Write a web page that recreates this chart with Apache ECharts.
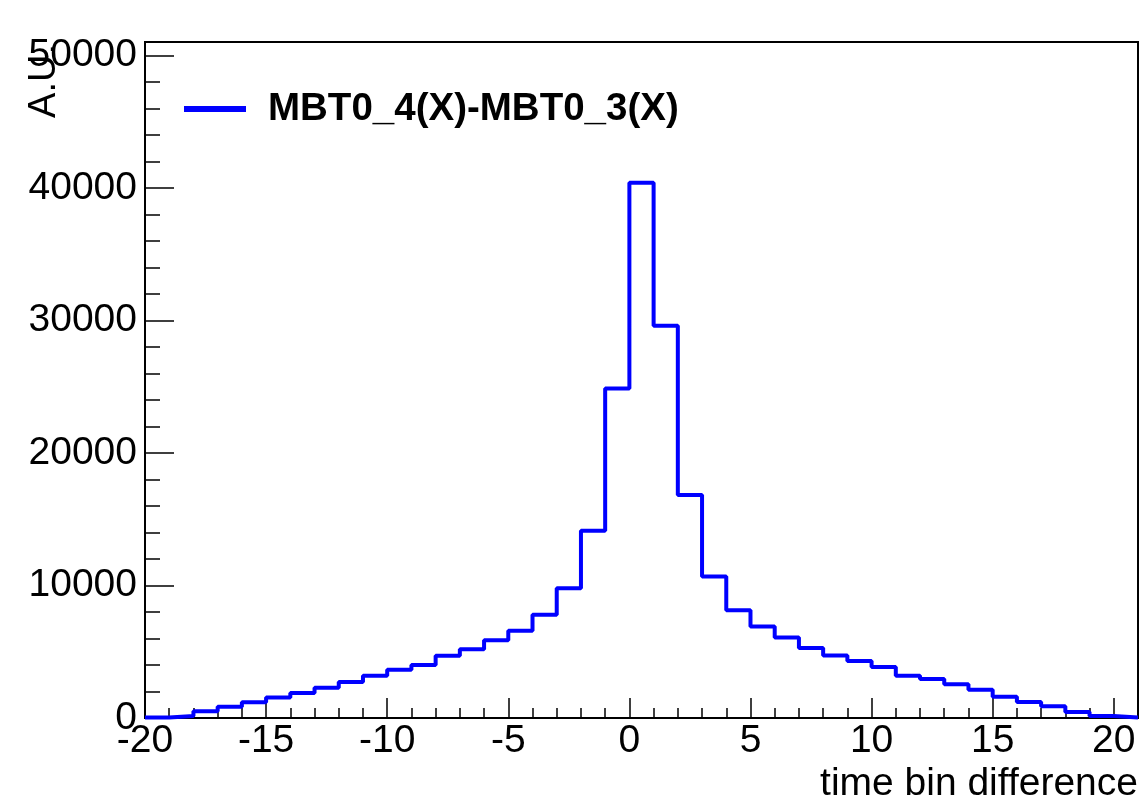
<!DOCTYPE html>
<html>
<head>
<meta charset="utf-8">
<script src="https://cdn.jsdelivr.net/npm/echarts@6/dist/echarts.min.js"></script>
<style>
  html, body { margin: 0; padding: 0; background: #fff; }
  #time-diff { width: 1139px; height: 801px; }
</style>
</head>
<body>
<div id="time-diff"></div>
<script>
// histogram bins: low edge of each bin, plus the upper edge of the last one
const binLowEdges = [-20, -19, -18, -17, -16, -15, -14, -13, -12, -11, -10, -9, -8, -7, -6, -5, -4, -3, -2, -1,
  0, 1, 2, 3, 4, 5, 6, 7, 8, 9, 10, 11, 12, 13, 14, 15, 16, 17, 18, 19, 20];
const binUpEdge = 21;
const counts = [40, 150, 500, 850, 1180, 1550, 1890, 2290, 2720, 3190, 3640, 4000, 4700, 5180, 5870, 6580, 7790, 9790, 14120, 24860,
  40390, 29600, 16820, 10680, 8130, 6900, 6080, 5280, 4720, 4300, 3850, 3190, 2940, 2540, 2130, 1600, 1200, 880, 450, 150, 40];
const seriesName = 'MBT0_4(X)-MBT0_3(X)';
const xTitle = 'time bin difference';
const yTitle = 'A.U.';

const FONT = '"Liberation Sans", Arial, Helvetica, sans-serif';
const BLUE = '#0000ff';

// step line points: (low edge, count) and a last point closing the final bin
const stepData = binLowEdges.map((x, i) => [x, counts[i]]);
stepData.push([binUpEdge, counts[counts.length - 1]]);

const xMin = binLowEdges[0];
const xMax = binUpEdge;
const yMax = 51000;

const chart = echarts.init(document.getElementById('time-diff'), null, { renderer: 'canvas' });

const tickStyle = { color: '#000', width: 1.5 };

const option = {
    animation: false,
    backgroundColor: '#fff',
    grid: {
        left: 145,
        right: 1,
        top: 42,
        bottom: 83,
        show: true,
        borderColor: '#000',
        borderWidth: 2,
        backgroundColor: 'transparent',
        containLabel: false,
        outerBoundsMode: 'none'
    },
    legend: {
        data: [{ name: seriesName, icon: 'rect' }],
        left: 184,
        top: 88,
        padding: 0,
        itemWidth: 62,
        itemHeight: 6,
        selectedMode: false,
        textStyle: {
            fontFamily: FONT,
            fontSize: 38.5,
            fontWeight: 'bold',
            color: '#000',
            lineHeight: 42,
            padding: [0, 0, 0, 17]
        }
    },
    xAxis: [
        {
            type: 'value',
            position: 'bottom',
            min: xMin,
            max: xMax,
            interval: 5,
            axisLine: { onZero: false, lineStyle: { color: '#000', width: 2 } },
            axisTick: { inside: true, length: 20, lineStyle: tickStyle },
            axisLabel: {
                margin: 4,
                color: '#000',
                fontFamily: FONT,
                fontSize: 39,
                formatter: (v) => (v % 5 === 0 ? String(v) : '')
            },
            splitLine: { show: false }
        },
        {
            // minor ticks, one per bin
            type: 'value',
            position: 'bottom',
            min: xMin,
            max: xMax,
            interval: 1,
            axisLine: { show: false, onZero: false },
            axisTick: { inside: true, length: 10, lineStyle: tickStyle },
            axisLabel: { show: false },
            splitLine: { show: false }
        }
    ],
    yAxis: [
        {
            type: 'value',
            position: 'left',
            min: 0,
            max: yMax,
            interval: 10000,
            axisLine: { show: true, onZero: false, lineStyle: { color: '#000', width: 2 } },
            axisTick: { show: true, inside: true, length: 29, lineStyle: tickStyle },
            axisLabel: {
                margin: 8,
                color: '#000',
                fontFamily: FONT,
                fontSize: 39,
                formatter: (v) => (v % 10000 === 0 ? String(v) : '')
            },
            splitLine: { show: false }
        },
        {
            type: 'value',
            position: 'left',
            min: 0,
            max: yMax,
            interval: 2000,
            axisLine: { show: false, onZero: false },
            axisTick: { show: true, inside: true, length: 15, lineStyle: tickStyle },
            axisLabel: { show: false },
            splitLine: { show: false }
        }
    ],
    graphic: [
        {
            type: 'text',
            x: 45,
            y: 44,
            rotation: Math.PI / 2,
            style: {
                text: yTitle,
                fontFamily: FONT,
                fontSize: 38,
                fill: '#000',
                align: 'right',
                verticalAlign: 'middle'
            }
        },
        {
            type: 'text',
            x: 1138,
            y: 784,
            style: {
                text: xTitle,
                fontFamily: FONT,
                fontSize: 39,
                fill: '#000',
                align: 'right',
                verticalAlign: 'middle'
            }
        }
    ],
    series: [
        {
            name: seriesName,
            type: 'line',
            xAxisIndex: 0,
            yAxisIndex: 0,
            step: 'end',
            data: stepData,
            showSymbol: false,
            symbol: 'none',
            clip: false,
            color: BLUE,
            itemStyle: { color: BLUE },
            lineStyle: { color: BLUE, width: 4 }
        }
    ]
};

chart.setOption(option);
</script>
</body>
</html>
